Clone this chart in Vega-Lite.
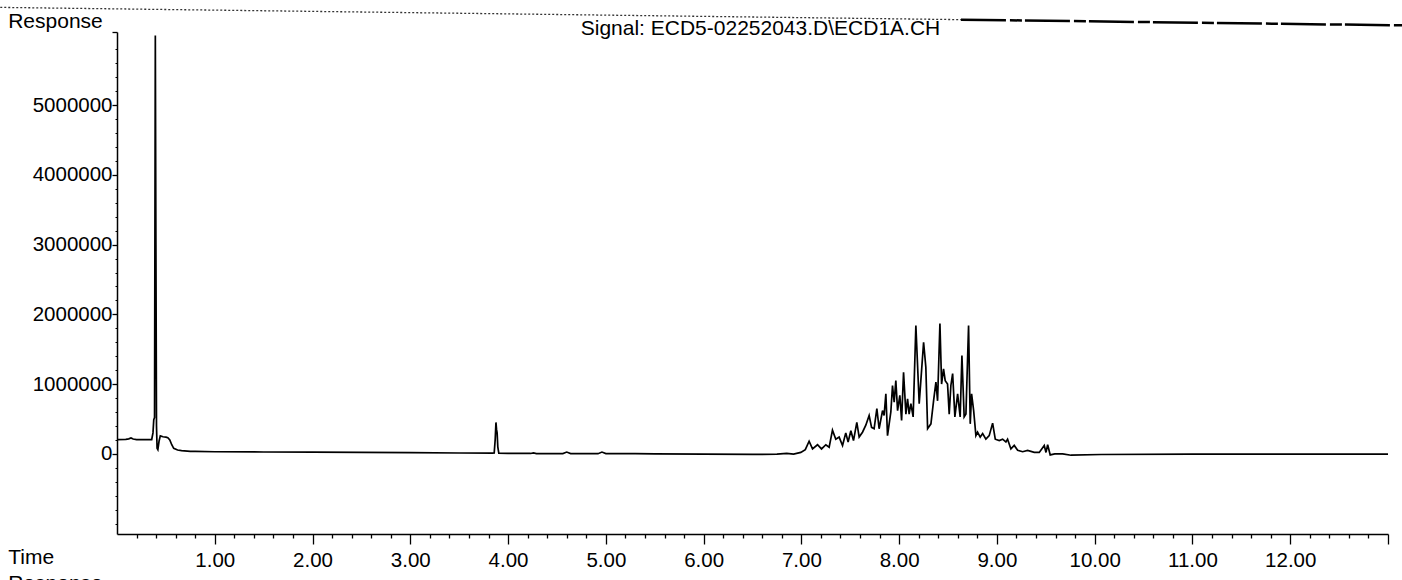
{
  "$schema": "https://vega.github.io/schema/vega-lite/v6.json",
  "autosize": {"type": "none"},
  "padding": {"left": 117, "top": 32, "right": 14, "bottom": 46},
  "width": 1271,
  "height": 502,
  "background": "white",
  "config": {
    "view": {"stroke": null},
    "axis": {"grid": false, "labelFont": "Liberation Sans", "labelFontSize": 20.5, "labelColor": "black", "domainColor": "black", "tickColor": "black", "domainWidth": 1.5, "tickWidth": 1.3, "title": null}
  },
  "datasets": {
    "trace": [
      {"t": 0, "v": 205000}, {"t": 0.09, "v": 208000}, {"t": 0.12, "v": 215000}, {"t": 0.143, "v": 228000}, {"t": 0.165, "v": 212000}, {"t": 0.2, "v": 205000}, {"t": 0.3, "v": 205000}, {"t": 0.355, "v": 205000}, {"t": 0.368, "v": 300000}, {"t": 0.376, "v": 490000}, {"t": 0.384, "v": 520000}, {"t": 0.392, "v": 6000000}, {"t": 0.398, "v": 3000000}, {"t": 0.404, "v": 400000}, {"t": 0.41, "v": 80000}, {"t": 0.418, "v": 60000}, {"t": 0.43, "v": 180000}, {"t": 0.443, "v": 258000}, {"t": 0.47, "v": 245000}, {"t": 0.5, "v": 240000}, {"t": 0.52, "v": 230000}, {"t": 0.54, "v": 200000}, {"t": 0.56, "v": 130000}, {"t": 0.58, "v": 78000}, {"t": 0.62, "v": 55000}, {"t": 0.66, "v": 45000}, {"t": 0.75, "v": 35000}, {"t": 0.8, "v": 34000}, {"t": 1.0, "v": 30000}, {"t": 1.5, "v": 26000}, {"t": 2.0, "v": 23000}, {"t": 2.5, "v": 20000}, {"t": 3.0, "v": 16000}, {"t": 3.5, "v": 12000}, {"t": 3.84, "v": 9000}, {"t": 3.858, "v": 12000}, {"t": 3.868, "v": 200000}, {"t": 3.876, "v": 450000}, {"t": 3.882, "v": 350000}, {"t": 3.888, "v": 300000}, {"t": 3.895, "v": 100000}, {"t": 3.905, "v": 10000}, {"t": 4.0, "v": 6000}, {"t": 4.23, "v": 5000}, {"t": 4.26, "v": 12000}, {"t": 4.29, "v": 4000}, {"t": 4.56, "v": 3000}, {"t": 4.6, "v": 25000}, {"t": 4.64, "v": 3000}, {"t": 4.92, "v": 2000}, {"t": 4.96, "v": 25000}, {"t": 5.0, "v": 3000}, {"t": 5.3, "v": 2000}, {"t": 5.5, "v": 0}, {"t": 6.0, "v": -5000}, {"t": 6.5, "v": -8000}, {"t": 6.75, "v": -5000}, {"t": 6.85, "v": 5000}, {"t": 6.92, "v": -3000}, {"t": 6.994, "v": 20000}, {"t": 7.04, "v": 60000}, {"t": 7.079, "v": 180000}, {"t": 7.114, "v": 70000}, {"t": 7.165, "v": 130000}, {"t": 7.206, "v": 70000}, {"t": 7.25, "v": 130000}, {"t": 7.284, "v": 95000}, {"t": 7.318, "v": 340000}, {"t": 7.352, "v": 210000}, {"t": 7.386, "v": 240000}, {"t": 7.421, "v": 120000}, {"t": 7.454, "v": 300000}, {"t": 7.478, "v": 170000}, {"t": 7.506, "v": 330000}, {"t": 7.533, "v": 190000}, {"t": 7.567, "v": 450000}, {"t": 7.591, "v": 240000}, {"t": 7.625, "v": 310000}, {"t": 7.659, "v": 410000}, {"t": 7.693, "v": 550000}, {"t": 7.718, "v": 380000}, {"t": 7.744, "v": 360000}, {"t": 7.772, "v": 650000}, {"t": 7.795, "v": 360000}, {"t": 7.83, "v": 620000}, {"t": 7.846, "v": 550000}, {"t": 7.864, "v": 860000}, {"t": 7.881, "v": 260000}, {"t": 7.915, "v": 600000}, {"t": 7.932, "v": 980000}, {"t": 7.949, "v": 740000}, {"t": 7.966, "v": 1050000}, {"t": 7.984, "v": 620000}, {"t": 8.007, "v": 840000}, {"t": 8.025, "v": 480000}, {"t": 8.045, "v": 1170000}, {"t": 8.069, "v": 570000}, {"t": 8.086, "v": 790000}, {"t": 8.102, "v": 570000}, {"t": 8.12, "v": 720000}, {"t": 8.143, "v": 530000}, {"t": 8.171, "v": 1840000}, {"t": 8.205, "v": 720000}, {"t": 8.222, "v": 1050000}, {"t": 8.25, "v": 1600000}, {"t": 8.273, "v": 1240000}, {"t": 8.291, "v": 360000}, {"t": 8.325, "v": 430000}, {"t": 8.352, "v": 760000}, {"t": 8.376, "v": 1030000}, {"t": 8.393, "v": 760000}, {"t": 8.417, "v": 1870000}, {"t": 8.434, "v": 1000000}, {"t": 8.454, "v": 1220000}, {"t": 8.471, "v": 1050000}, {"t": 8.495, "v": 1000000}, {"t": 8.512, "v": 570000}, {"t": 8.529, "v": 980000}, {"t": 8.547, "v": 1150000}, {"t": 8.57, "v": 530000}, {"t": 8.598, "v": 860000}, {"t": 8.624, "v": 530000}, {"t": 8.642, "v": 1410000}, {"t": 8.665, "v": 530000}, {"t": 8.683, "v": 570000}, {"t": 8.71, "v": 1840000}, {"t": 8.727, "v": 430000}, {"t": 8.741, "v": 860000}, {"t": 8.762, "v": 620000}, {"t": 8.785, "v": 260000}, {"t": 8.802, "v": 310000}, {"t": 8.829, "v": 240000}, {"t": 8.854, "v": 290000}, {"t": 8.887, "v": 210000}, {"t": 8.921, "v": 260000}, {"t": 8.956, "v": 440000}, {"t": 8.983, "v": 210000}, {"t": 9.024, "v": 190000}, {"t": 9.058, "v": 210000}, {"t": 9.092, "v": 170000}, {"t": 9.109, "v": 210000}, {"t": 9.143, "v": 70000}, {"t": 9.177, "v": 120000}, {"t": 9.212, "v": 50000}, {"t": 9.263, "v": 30000}, {"t": 9.314, "v": 50000}, {"t": 9.382, "v": 20000}, {"t": 9.433, "v": 20000}, {"t": 9.484, "v": 120000}, {"t": 9.502, "v": 20000}, {"t": 9.519, "v": 130000}, {"t": 9.545, "v": -15000}, {"t": 9.592, "v": 0}, {"t": 9.672, "v": 0}, {"t": 9.758, "v": -20000}, {"t": 10.065, "v": -10000}, {"t": 11.0, "v": -5000}, {"t": 12.0, "v": -5000}, {"t": 13.0, "v": -5000}
    ],
    "topDotted": [{"t": -1.194, "v": 6403000}, {"t": 8.632, "v": 6227000}],
    "topSolid": [{"t": 8.632, "v": 6227000}, {"t": 13.155, "v": 6145000}],
    "labels": [
      {"t": -1.113, "v": 6102000, "label": "Response"},
      {"t": 4.743, "v": 6000000, "label": "Signal: ECD5-02252043.D\\ECD1A.CH"},
      {"t": -1.113, "v": -1574000, "label": "Time"},
      {"t": -1.113, "v": -1947000, "label": "Response"}
    ]
  },
  "layer": [
    {
      "data": {"name": "trace"},
      "mark": {"type": "line", "color": "black", "strokeWidth": 1.7, "interpolate": "linear"},
      "encoding": {
        "x": {"field": "t", "type": "quantitative", "scale": {"domain": [0, 13], "nice": false, "zero": false},
          "axis": {"orient": "bottom", "values": [1,2,3,4,5,6,7,8,9,10,11,12,13], "format": ".2f", "labelExpr": "datum.value > 12.5 ? '' : datum.label", "tickSize": 10, "labelPadding": 6, "labelFlush": false, "labelOverlap": false}},
        "y": {"field": "v", "type": "quantitative", "scale": {"domain": [-1150000, 6050000], "nice": false, "zero": false},
          "axis": {"orient": "left", "values": [0,1000000,2000000,3000000,4000000,5000000,6050000], "format": "d", "labelExpr": "datum.value > 5500000 ? '' : datum.label", "tickSize": 5, "labelPadding": 0, "labelBaseline": "middle", "labelFlush": false, "labelOverlap": false}}
      }
    },
    {
      "data": {"name": "trace"},
      "mark": {"type": "line", "opacity": 0},
      "encoding": {
        "x": {"field": "t", "type": "quantitative",
          "axis": {"orient": "bottom", "values": [0.2,0.4,0.6,0.8,1.2,1.4,1.6,1.8,2.2,2.4,2.6,2.8,3.2,3.4,3.6,3.8,4.2,4.4,4.6,4.8,5.2,5.4,5.6,5.8,6.2,6.4,6.6,6.8,7.2,7.4,7.6,7.8,8.2,8.4,8.6,8.8,9.2,9.4,9.6,9.8,10.2,10.4,10.6,10.8,11.2,11.4,11.6,11.8,12.2,12.4,12.6,12.8], "labels": false, "domain": false, "tickSize": 4}},
        "y": {"field": "v", "type": "quantitative",
          "axis": {"orient": "left", "values": [-1000000,-800000,-600000,-400000,-200000,200000,400000,600000,800000,1200000,1400000,1600000,1800000,2200000,2400000,2600000,2800000,3200000,3400000,3600000,3800000,4200000,4400000,4600000,4800000,5200000,5400000,5600000,5800000], "labels": false, "domain": false, "tickSize": 2, "tickWidth": 1}}
      }
    },
    {
      "data": {"name": "topDotted"},
      "mark": {"type": "line", "color": "#333333", "strokeWidth": 1.3, "strokeDash": [2, 2]},
      "encoding": {
        "x": {"field": "t", "type": "quantitative", "axis": null},
        "y": {"field": "v", "type": "quantitative", "axis": null}
      }
    },
    {
      "data": {"name": "topSolid"},
      "mark": {"type": "line", "color": "black", "strokeWidth": 2.5, "strokeDash": [45, 4, 12, 3]},
      "encoding": {
        "x": {"field": "t", "type": "quantitative", "axis": null},
        "y": {"field": "v", "type": "quantitative", "axis": null}
      }
    },
    {
      "data": {"name": "labels"},
      "mark": {"type": "text", "align": "left", "baseline": "alphabetic", "font": "Liberation Sans", "fontSize": 21, "color": "black"},
      "encoding": {
        "x": {"field": "t", "type": "quantitative", "axis": null},
        "y": {"field": "v", "type": "quantitative", "axis": null},
        "text": {"field": "label"}
      }
    }
  ],
  "resolve": {"axis": {"x": "independent", "y": "independent"}}
}
